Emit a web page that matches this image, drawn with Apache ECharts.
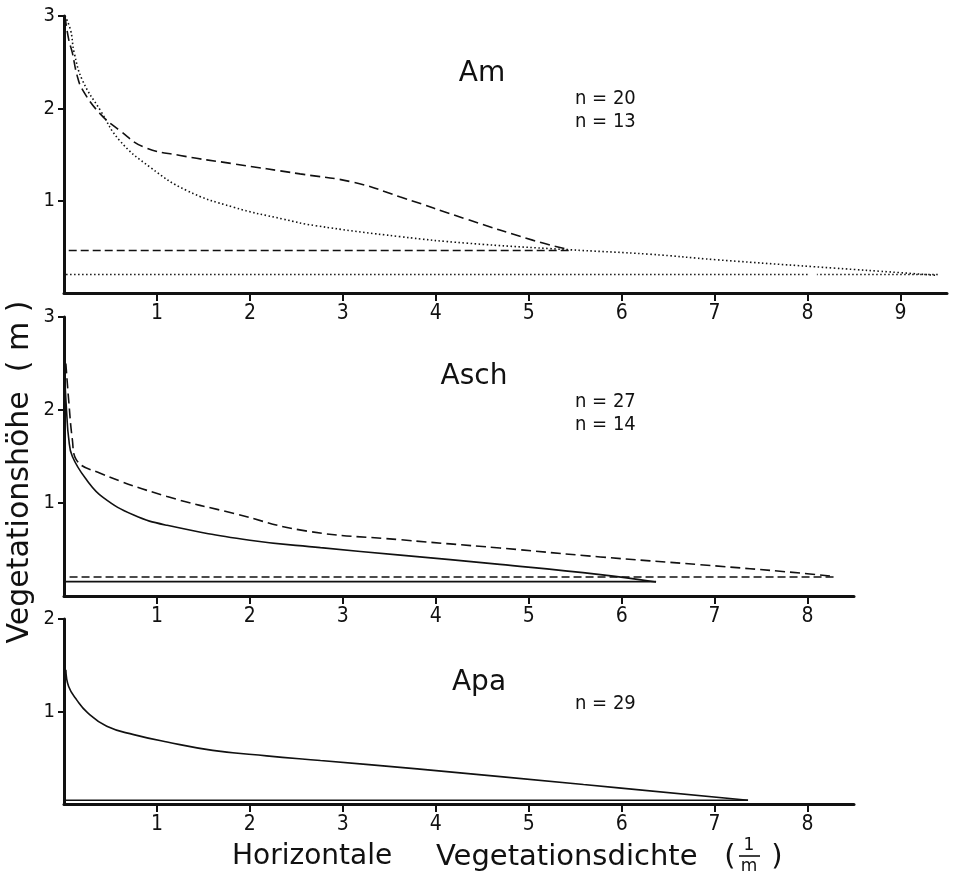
<!DOCTYPE html>
<html>
<head>
<meta charset="utf-8">
<script src="https://cdn.jsdelivr.net/npm/echarts@6/dist/echarts.min.js"></script>
<style>
html,body{margin:0;padding:0;background:#fff;}
#chart{width:953px;height:879px;}
</style>
</head>
<body>
<div id="chart"></div>
<script>
// ---- data (x = horizontal vegetation density 1/m, y = vegetation height m) ----
const amDashed = [[0.01,3.0],[0.05,2.75],[0.09,2.6],[0.14,2.36],[0.2,2.2],[0.39,1.94],[0.6,1.76],[0.86,1.58],[1.25,1.49],[1.82,1.40],[2.54,1.29],[3.11,1.2],[3.62,1.04],[4.33,0.80],[5.05,0.57],[5.43,0.47]];
const amDashedBase = [[5.43,0.46],[0,0.46]];
const amDotted = [[0.01,3.0],[0.07,2.85],[0.11,2.6],[0.2,2.3],[0.39,1.98],[0.6,1.65],[0.93,1.36],[1.32,1.11],[1.82,0.93],[2.36,0.80],[2.7,0.73],[3.62,0.61],[4.33,0.54],[5.41,0.47],[6.3,0.42],[7.02,0.36],[8.28,0.27],[9.0,0.22],[9.4,0.19]];
const amDottedBase = [[9.4,0.2],[8.1,0.2],'-',[8.0,0.2],[0,0.2]];

const aschSolid = [[0.01,2.3],[0.03,1.95],[0.05,1.7],[0.09,1.50],[0.25,1.24],[0.42,1.06],[0.75,0.87],[1.11,0.76],[2.0,0.60],[2.76,0.52],[3.62,0.44],[4.69,0.34],[5.77,0.23],[6.37,0.15]];
const aschSolidBase = [[6.37,0.155],[0,0.155]];
const aschDashed = [[0.02,2.5],[0.05,2.11],[0.09,1.68],[0.13,1.47],[0.39,1.32],[1.11,1.07],[1.82,0.89],[2.6,0.70],[3.62,0.605],[4.69,0.516],[5.77,0.42],[6.84,0.337],[7.92,0.247],[8.28,0.21]];
const aschDashedBase = [[8.28,0.205],[0,0.205]];

const apaSolid = [[0.02,1.45],[0.05,1.27],[0.14,1.12],[0.25,0.99],[0.46,0.84],[0.75,0.75],[1.11,0.67],[1.6,0.58],[2.18,0.52],[2.76,0.47],[3.8,0.38],[5.59,0.21],[7.36,0.04]];
const apaSolidBase = [[7.36,0.04],[0,0.04]];

const xTicksAm = [1,2,3,4,5,6,7,8,9];
const xTicksOther = [1,2,3,4,5,6,7,8];
const yTicks3 = [1,2,3];
const yTicks2 = [1,2];

const panelNames = ['Am','Asch','Apa'];
const nLabels = [['n = 20','n = 13'],['n = 27','n = 14'],['n = 29']];

// ---- styles ----
const INK = '#111';
const tickFont = "'DejaVu Sans Condensed','DejaVu Sans',sans-serif";
const solid = {color:INK,width:1.6,type:'solid'};
const dashed = {color:INK,width:1.6,type:[10,5]};
const dashedBase = {color:INK,width:1.6,type:[8,4]};
const dotted = {color:INK,width:1.6,type:[1.5,2.5]};

function xAxis(gi,max,ticks){
  return {type:'value',gridIndex:gi,min:0,max:max,interval:1,
    axisLine:{show:true,onZero:false,lineStyle:{color:INK,width:3}},
    axisTick:{show:true,length:8,lineStyle:{color:INK,width:2},customValues:ticks},
    axisLabel:{show:true,margin:10,fontSize:21,fontFamily:tickFont,color:INK,customValues:ticks},
    splitLine:{show:false}};
}
function yAxis(gi,max,ticks){
  return {type:'value',gridIndex:gi,min:0,max:max,interval:1,
    axisLine:{show:true,onZero:false,lineStyle:{color:INK,width:3}},
    axisTick:{show:true,length:6,lineStyle:{color:INK,width:2},customValues:ticks},
    axisLabel:{show:true,margin:9,fontSize:20,fontFamily:tickFont,color:INK,customValues:ticks},
    splitLine:{show:false}};
}
function line(gi,data,style,smooth){
  return {type:'line',xAxisIndex:gi,yAxisIndex:gi,data:data,showSymbol:false,symbol:'none',
    smooth:smooth?0.45:false,lineStyle:style,connectNulls:false,silent:true,animation:false,z:3};
}

function txt(x,y,text,size,align,font){
  return {type:'text',style:{x:x,y:y,text:text,fontSize:size,fontFamily:font||"'DejaVu Sans',sans-serif",fill:INK,align:align||'center',verticalAlign:'middle'}};
}

const graphics = [
  txt(482,74,panelNames[0],28),
  txt(575,99,nLabels[0][0],20,'left',tickFont),
  txt(575,122,nLabels[0][1],20,'left',tickFont),
  txt(474,377,panelNames[1],28),
  txt(575,402,nLabels[1][0],20,'left',tickFont),
  txt(575,425,nLabels[1][1],20,'left',tickFont),
  txt(479,683,panelNames[2],28),
  txt(575,704,nLabels[2][0],20,'left',tickFont),
  // axis titles
  {type:'text',x:20,y:472,rotation:Math.PI/2,style:{x:0,y:0,text:'Vegetationshöhe  ( m )',fontSize:30,fontFamily:"'DejaVu Sans',sans-serif",fill:INK,align:'center',verticalAlign:'middle'}},
  txt(232,857,'Horizontale',28,'left'),
  txt(436,857,'Vegetationsdichte',29,'left'),
  txt(730,857,'(',29,'center'),
  txt(749,846,'1',17,'center'),
  {type:'line',shape:{x1:739,y1:856,x2:760,y2:856},style:{stroke:INK,lineWidth:1.6}},
  txt(749,867,'m',17,'center'),
  txt(777,857,')',29,'center')
];

const option = {
  animation:false,
  backgroundColor:'#fff',
  grid:[
    {left:64,top:16,width:883,height:277},
    {left:64,top:317,width:790,height:279},
    {left:64,top:619,width:790,height:185}
  ],
  xAxis:[xAxis(0,9.5,xTicksAm),xAxis(1,8.5,xTicksOther),xAxis(2,8.5,xTicksOther)],
  yAxis:[yAxis(0,3,yTicks3),yAxis(1,3,yTicks3),yAxis(2,2,yTicks2)],
  series:[
    line(0,amDashed,dashed,true),
    line(0,amDashedBase,dashedBase,false),
    line(0,amDotted,dotted,true),
    line(0,amDottedBase,dotted,false),
    line(1,aschSolid,solid,true),
    line(1,aschSolidBase,solid,false),
    line(1,aschDashed,dashed,true),
    line(1,aschDashedBase,dashedBase,false),
    line(2,apaSolid,solid,true),
    line(2,apaSolidBase,solid,false)
  ],
  graphic:graphics
};
const chart = echarts.init(document.getElementById('chart'),null,{renderer:'canvas'});
chart.setOption(option);
</script>
</body>
</html>
